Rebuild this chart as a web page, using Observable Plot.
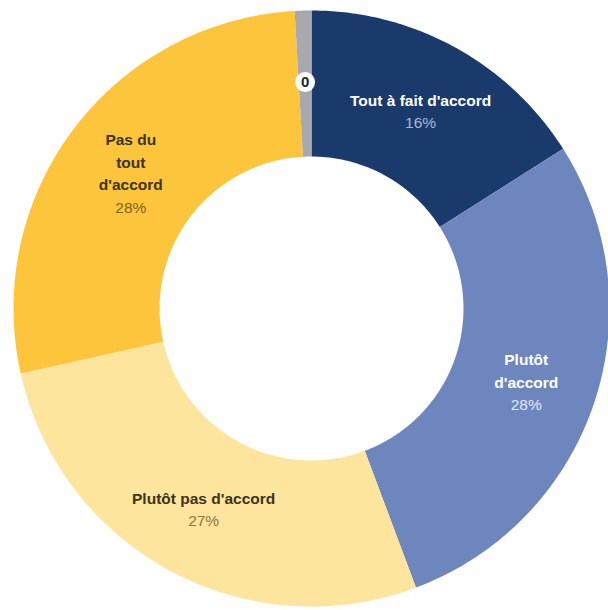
<!DOCTYPE html>
<html>
<head>
<meta charset="utf-8">
<script src="https://cdn.jsdelivr.net/npm/d3@7"></script>
<script src="https://cdn.jsdelivr.net/npm/@observablehq/plot@0.6"></script>
<style>
  html, body { margin: 0; padding: 0; background: #fff; }
</style>
</head>
<body>
<div id="chart"></div>
<script>
// Data (clockwise from 12 o'clock)
const categories = ["Tout à fait d'accord", "Plutôt d'accord", "Plutôt pas d'accord", "Pas du tout d'accord", "Sans réponse"];
const values = [16, 28.3, 27.2, 27.6, 0.9];
const percentLabels = ["16%", "28%", "27%", "28%", "0"];
const displayNames = ["Tout à fait d'accord", "Plutôt\nd'accord", "Plutôt pas d'accord", "Pas du\ntout\nd'accord", ""];
const colors = ["#1a3a6c", "#6d86bd", "#fde59e", "#fdc53c", "#a7a9ad"];
const titleColors = ["#ffffff", "#ffffff", "#3b3320", "#3b3320", "#333333"];
const pctColors = ["#a8b7d5", "#e3e8f3", "#8c7834", "#7a6426", "#333333"];

const innerR = 0.51, outerR = 1, labelR = 0.76;
const total = d3.sum(values);

// Slice angles from the data
let acc = 0;
const slices = categories.map((c, i) => {
  const a0 = acc / total * 2 * Math.PI;
  acc += values[i];
  const a1 = acc / total * 2 * Math.PI;
  return {key: c, i, a0, a1, mid: (a0 + a1) / 2};
});

// Polygon outlines of each ring slice
const pts = [];
for (const s of slices) {
  const n = Math.max(4, Math.ceil((s.a1 - s.a0) / 0.01));
  for (let k = 0; k <= n; k++) {
    const a = s.a0 + (s.a1 - s.a0) * k / n;
    pts.push({key: s.key, x: outerR * Math.sin(a), y: outerR * Math.cos(a)});
  }
  for (let k = n; k >= 0; k--) {
    const a = s.a0 + (s.a1 - s.a0) * k / n;
    pts.push({key: s.key, x: innerR * Math.sin(a), y: innerR * Math.cos(a)});
  }
}

const labels = slices.slice(0, 4).map(s => {
  const name = displayNames[s.i];
  const nLines = name.split("\n").length;
  return {
    x: labelR * Math.sin(s.mid),
    y: labelR * Math.cos(s.mid),
    title: name + "\n ",
    pct: "\n".repeat(nLines) + percentLabels[s.i],
    tc: titleColors[s.i],
    pc: pctColors[s.i]
  };
});
const grey = slices[4];
const greyLabel = [{x: labelR * Math.sin(grey.mid), y: labelR * Math.cos(grey.mid), t: percentLabels[4]}];

const chart = Plot.plot({
  width: 608,
  height: 610,
  margin: 0,
  x: {domain: [-1, 1], range: [13, 609], axis: null},
  y: {domain: [-1, 1], range: [606, 10], axis: null},
  color: {domain: categories, range: colors},
  style: {fontFamily: "'Liberation Sans', Arial, sans-serif", background: "#fff"},
  marks: [
    Plot.line(pts, {x: "x", y: "y", z: "key", fill: "key", stroke: "none", curve: "linear-closed"}),
    Plot.text(labels, {x: "x", y: "y", text: "title", fill: d => d.tc, fontWeight: "bold", fontSize: 15.5, lineHeight: 1.45, lineAnchor: "middle"}),
    Plot.text(labels, {x: "x", y: "y", text: "pct", fill: d => d.pc, fontSize: 15.5, lineHeight: 1.45, lineAnchor: "middle"}),
    Plot.dot(greyLabel, {x: "x", y: "y", r: 10, fill: "#ffffff", stroke: "none"}),
    Plot.text(greyLabel, {x: "x", y: "y", text: "t", fill: "#222", fontWeight: "bold", fontSize: 15})
  ]
});
document.getElementById("chart").appendChild(chart);
</script>
</body>
</html>
